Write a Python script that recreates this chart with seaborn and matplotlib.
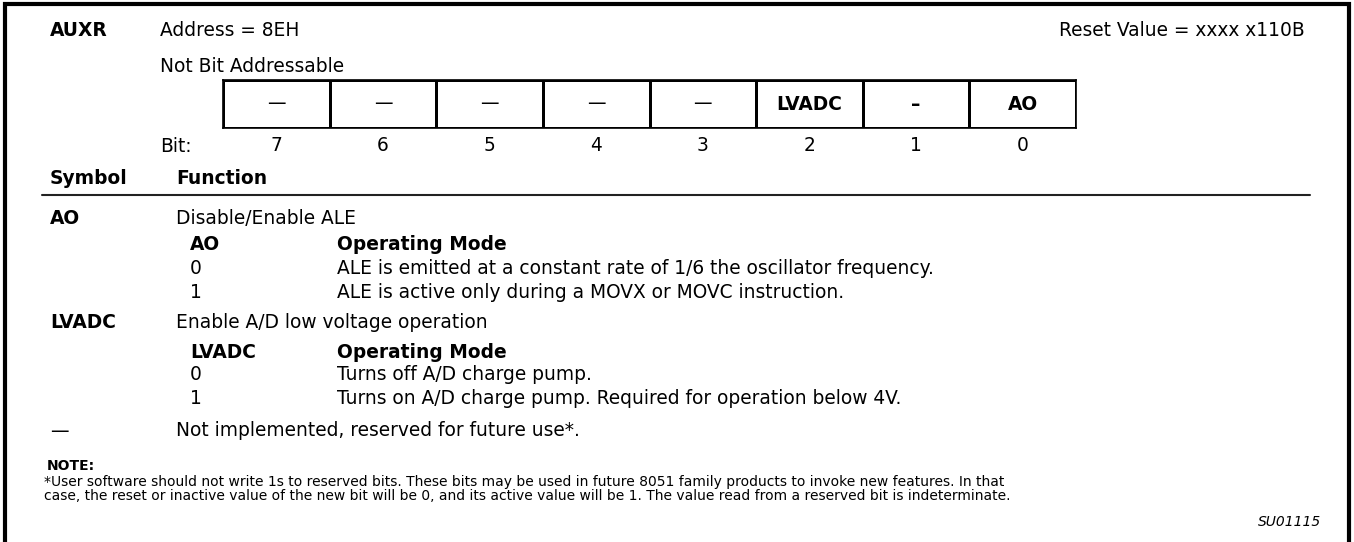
import numpy as np
import matplotlib
matplotlib.use('Agg')
import matplotlib.pyplot as plt
import seaborn as sns

# register layout
register_name = 'AUXR'
address_text = 'Address = 8EH'
reset_text = 'Reset Value = xxxx x110B'
addressable_text = 'Not Bit Addressable'
bit_labels = ['—', '—', '—', '—', '—', 'LVADC', '–', 'AO']
bit_numbers = [7, 6, 5, 4, 3, 2, 1, 0]
bold_labels = ['LVADC', 'AO', '–']

# symbol / function table
ao_title = 'Disable/Enable ALE'
ao_modes = ['0', '1']
ao_desc = ['ALE is emitted at a constant rate of 1/6 the oscillator frequency.',
           'ALE is active only during a MOVX or MOVC instruction.']
lvadc_title = 'Enable A/D low voltage operation'
lvadc_modes = ['0', '1']
lvadc_desc = ['Turns off A/D charge pump.',
              'Turns on A/D charge pump. Required for operation below 4V.']
reserved_text = 'Not implemented, reserved for future use*.'
note_lines = ['*User software should not write 1s to reserved bits. These bits may be used in future 8051 family products to invoke new features. In that',
              'case, the reset or inactive value of the new bit will be 0, and its active value will be 1. The value read from a reserved bit is indeterminate.']
figure_id = 'SU01115'

sns.set_theme(style='white')
plt.rcParams['font.family'] = ['DejaVu Sans']
plt.rcParams['text.color'] = 'black'

W, H = 1354, 542
fig = plt.figure(figsize=(W / 100, H / 100), dpi=100)
ax = fig.add_axes([0, 0, 1, 1])
ax.set_xlim(0, W)
ax.set_ylim(H, 0)
ax.axis('off')

fs = 13.4
fs_note = 10
c1, c2, c3, c4 = 50, 160, 190, 337

# outer frame (open at bottom)
ax.plot([5, 5, 1349, 1349], [H, 4, 4, H], color='black', lw=3, solid_joinstyle='miter')

ax.text(c1, 30, register_name, fontsize=fs, weight='bold', va='center')
ax.text(c2, 30, address_text, fontsize=fs, va='center')
ax.text(1305, 30, reset_text, fontsize=fs, va='center', ha='right')
ax.text(c2, 67, addressable_text, fontsize=fs, va='center')
ax.text(c2, 147, 'Bit:', fontsize=fs, va='center')

# register cells via seaborn heatmap
box_l, box_r, box_t, box_b = 223, 1076, 80, 128
ax_reg = fig.add_axes([box_l / W, 1 - box_b / H, (box_r - box_l) / W, (box_b - box_t) / H])
sns.heatmap(np.zeros((1, len(bit_labels))), ax=ax_reg, cmap=['white'], cbar=False,
            linewidths=1.0, linecolor='black',
            annot=np.array([bit_labels]), fmt='',
            annot_kws={'fontsize': fs, 'color': 'black'},
            xticklabels=bit_numbers, yticklabels=False)
for t in ax_reg.texts:
    if t.get_text() in bold_labels:
        t.set_fontweight('bold')
for sp in ax_reg.spines.values():
    sp.set_visible(True)
    sp.set_linewidth(1.2)
    sp.set_color('black')
ax_reg.tick_params(axis='x', length=0, pad=6, labelsize=fs, labelcolor='black')
plt.setp(ax_reg.get_xticklabels(), rotation=0)

# table header
ax.text(c1, 178, 'Symbol', fontsize=fs, weight='bold', va='center')
ax.text(176, 178, 'Function', fontsize=fs, weight='bold', va='center')
ax.plot([42, 1310], [195, 195], color='#222222', lw=1.5)

# AO
ax.text(c1, 219, 'AO', fontsize=fs, weight='bold', va='center')
ax.text(176, 219, ao_title, fontsize=fs, va='center')
ax.text(c3, 245, 'AO', fontsize=fs, weight='bold', va='center')
ax.text(c4, 245, 'Operating Mode', fontsize=fs, weight='bold', va='center')
for y, m, d in zip([269, 292], ao_modes, ao_desc):
    ax.text(c3, y, m, fontsize=fs, va='center')
    ax.text(c4, y, d, fontsize=fs, va='center')

# LVADC
ax.text(c1, 323, 'LVADC', fontsize=fs, weight='bold', va='center')
ax.text(176, 323, lvadc_title, fontsize=fs, va='center')
ax.text(c3, 353, 'LVADC', fontsize=fs, weight='bold', va='center')
ax.text(c4, 353, 'Operating Mode', fontsize=fs, weight='bold', va='center')
for y, m, d in zip([375, 398], lvadc_modes, lvadc_desc):
    ax.text(c3, y, m, fontsize=fs, va='center')
    ax.text(c4, y, d, fontsize=fs, va='center')

# reserved
ax.text(c1, 431, '—', fontsize=fs, va='center')
ax.text(176, 431, reserved_text, fontsize=fs, va='center')

# note
ax.text(47, 466, 'NOTE:', fontsize=fs_note, weight='bold', va='center')
for y, line in zip([482, 496], note_lines):
    ax.text(44, y, line, fontsize=fs_note, va='center')

ax.text(1321, 522, figure_id, fontsize=fs_note, style='italic', va='center', ha='right')

fig.savefig('out.png', dpi=100)
